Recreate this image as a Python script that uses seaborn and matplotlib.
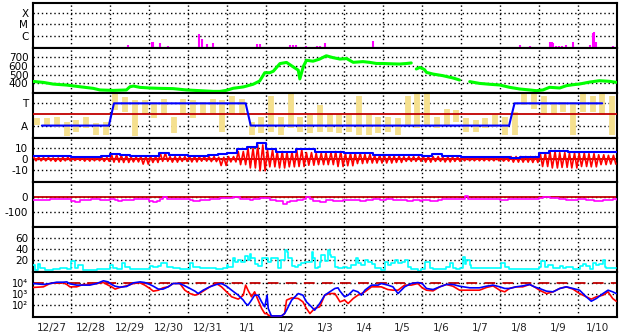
import numpy as np
import pandas as pd
import matplotlib
matplotlib.use("Agg")
import matplotlib.pyplot as plt
from matplotlib.ticker import NullLocator
import seaborn as sns

# time axis: days since 12/27 00:00
day_labels = ["12/27", "12/28", "12/29", "12/30", "12/31", "1/1", "1/2", "1/3",
              "1/4", "1/5", "1/6", "1/7", "1/8", "1/9", "1/10"]

# X-ray flare spikes (log10 flux)
xray_day = [2.44, 3.06, 3.10, 3.27, 3.48, 4.28, 4.34, 4.47, 4.62, 5.75, 5.83, 6.60,
            6.68, 6.77, 7.03, 7.29, 7.38, 7.50, 8.74, 12.50, 12.76, 13.29, 13.33,
            13.36, 13.44, 13.52, 13.60, 13.70, 13.88, 14.30, 14.38, 14.42, 14.47, 14.89]
xray_log = [-6.82, -6.55, -6.6, -6.7, -6.9, -5.9, -6.3, -6.8, -6.64, -6.8, -6.8, -6.85,
            -6.85, -6.85, -6.9, -6.95, -6.9, -6.7, -6.45, -6.82, -6.9, -6.6, -6.55,
            -6.7, -6.9, -6.9, -6.9, -6.85, -6.6, -6.85, -5.75, -5.7, -6.6, -6.9]

# solar wind speed (km/s)
wind_day = [0.02, 0.28, 0.53, 0.88, 1.22, 1.56, 1.73, 2.07, 2.41, 2.50, 2.59, 2.76,
            3.01, 3.27, 3.61, 3.95, 4.30, 4.64, 4.81, 4.98, 5.15, 5.41, 5.66, 5.83,
            5.96, 6.09, 6.18, 6.35, 6.52, 6.69, 6.82, 6.86, 6.95, 7.03, 7.20, 7.37,
            7.54, 7.71, 7.89, 8.06, 8.23, 8.48, 8.65, 8.83, 9.00, 9.25, 9.42, 9.60, 9.72,
            9.85, 9.94, 10.06, 10.11, 10.28, 10.53, 10.79, 10.96,
            11.22, 11.47, 11.73, 11.99, 12.24, 12.50, 12.76, 12.93, 13.10, 13.27,
            13.53, 13.70, 13.87, 14.04, 14.30, 14.55, 14.81, 14.98]
wind_speed = [422, 411, 392, 381, 362, 344, 326, 321, 326, 362, 370, 355,
              348, 344, 341, 326, 318, 310, 310, 322, 345, 360, 390, 427,
              520, 520, 537, 623, 636, 586, 549, 450, 590, 660, 650, 674,
              711, 690, 674, 680, 637, 645, 637, 624, 624, 620, 618, 624, 630,
              562, 580, 555, 524, 505, 487, 461, 438,
              420, 400, 390, 382, 356, 337, 326, 318, 326, 356,
              348, 374, 385, 393, 415, 430, 423, 412]
wind_seg = [0] * 49 + [1] * 8 + [2] * 18

# sector boundary: A = 135 deg, T = 315 deg
sector_day = [0.24, 1.96, 2.09, 5.47, 5.60, 12.23, 12.37, 14.62]
sector_angle = [135, 135, 315, 315, 135, 135, 315, 315]

# field angle spread per 6-hour bin (deg)
phi_lo = [140, 135, 127, 47, 87, 113, 60, 60, 259, 246, 47, 232, 193, 219, 74, 232,
          193, 219, 232, 87, 232, 219, 60, 74, 87, 60, 113, 87, 74, 87, 87, 74,
          87, 60, 60, 74, 87, 60, 140, 113, 140, 113, 140, 166, 87, 87, 113, 127,
          60, 60, 299, 272, 232, 232, 246, 60, 246, 246, 219, 60]
phi_hi = [198, 193, 206, 166, 180, 206, 153, 166, 391, 365, 338, 338, 325, 352, 206, 352,
          338, 325, 352, 338, 378, 352, 166, 206, 378, 206, 391, 206, 219, 299, 232, 232,
          219, 378, 219, 206, 206, 193, 378, 391, 391, 206, 272, 259, 193, 180, 193, 219,
          206, 246, 391, 391, 378, 325, 325, 325, 391, 378, 391, 378]

# IMF per 6-hour bin (nT)
bt = [3.0, 2.5, 2.5, 2.5, 2.3, 2.0, 2.0, 2.5, 4.5, 4.2, 3.3, 3.3, 3.3, 6.0, 4.0, 3.8,
      3.0, 3.2, 4.0, 4.5, 5.5, 9.0, 11.0, 15.0, 9.5, 7.0, 6.8, 9.0, 9.5, 7.0, 6.5, 6.5,
      6.0, 5.5, 5.5, 3.8, 3.5, 3.5, 3.5, 4.0, 3.0, 4.5, 3.0, 3.0, 2.4, 2.4, 2.4, 2.4,
      1.8, 1.5, 2.4, 2.4, 6.0, 7.5, 7.5, 7.0, 6.8, 7.0, 7.0, 6.5]
bz_lo = [-1.5, -1.5, -2.0, -1.5, -1.2, -1.8, -1.5, -2.0, -2.7, -3.0, -2.5, -4.5, -3.0,
         -2.0, -2.7, -2.0, -2.5, -1.8, -2.2, -5.8, -2.5, -5.0, -8.0, -10.6, -7.0, -8.0,
         -7.0, -6.7, -5.5, -5.0, -5.0, -6.7, -6.0, -4.0, -3.5, -3.5, -3.5, -3.0, -2.0,
         -2.0, -2.7, -2.0, -2.5, -2.0, -1.5, -1.5, -1.5, -1.5, -1.8, -2.7, -2.7, -3.0,
         -6.7, -8.0, -7.5, -8.0, -6.7, -7.0, -5.0, -4.5]
bz_hi = [1.8, 1.5, 1.2, 1.8, 1.2, 1.5, 1.8, 1.5, 4.0, 3.5, 2.0, 2.5, 2.4, 5.5, 2.4, 2.4,
         2.4, 2.4, 2.4, 1.8, 2.4, 7.0, 10.0, 13.0, 8.5, 7.0, 6.5, 8.5, 6.0, 5.5, 6.0,
         7.0, 5.5, 5.5, 4.5, 3.5, 3.5, 3.0, 2.4, 2.4, 2.4, 2.4, 2.0, 2.0, 1.5, 1.5, 1.2,
         1.5, 1.2, 2.4, 2.4, 2.4, 5.5, 7.0, 6.0, 5.5, 5.5, 5.0, 4.0, 3.5]

# geomagnetic index (nT)
dst_day = [0.02, 0.20, 0.45, 0.95, 1.00, 1.10, 1.22, 1.50, 1.73, 2.00, 2.12, 2.20,
           2.30, 2.60, 2.85, 3.00, 3.10, 3.20, 3.27, 3.36, 3.44, 3.80, 4.04, 4.12,
           4.30, 4.55, 4.80, 4.98, 5.15, 5.32, 5.58, 5.66, 5.83, 6.00, 6.09, 6.26,
           6.43, 6.52, 6.60, 6.78, 6.95, 7.03, 7.12, 7.20, 7.37, 7.54, 7.72, 7.97,
           8.23, 8.40, 8.57, 8.74, 8.91, 9.08, 9.25, 9.42, 9.60, 9.77, 9.94, 10.00,
           10.20, 10.40, 10.50, 11.00, 11.09, 11.17, 11.50, 11.80, 12.00, 12.20,
           12.90, 13.00, 13.10, 13.27, 13.50, 13.70, 14.00, 14.20, 14.40, 14.55,
           14.64, 14.90, 15.00]
dst_val = [-20, -16, -11, -11, -27, -33, -16, -11, -16, -11, -20, -22,
           -16, -11, -13, -24, -31, -24, -13, 0, -11, -11, -16, -24,
           -15, -9, -7, -4, 0, -13, -20, -11, -7, -2, -16, -27,
           -42, -31, -24, -20, -9, 0, -11, -24, -33, -20, -24, -16,
           -20, -27, -16, -9, -16, -9, -16, -20, -24, -20, -24, -20,
           -24, -16, -11, -11, 7, -11, -11, -13, -16, -9,
           -9, -7, 2, -7, -11, -16, -11, -16, -27, -24,
           -16, -13, -16]

# activity index
cyan_day = [0.02, 0.06, 0.15, 0.19, 0.32, 0.53, 0.71, 0.88, 1.00, 1.09, 1.18, 1.30,
            1.65, 1.90, 1.99, 2.07, 2.16, 2.29, 2.37, 2.50, 2.84, 3.01, 3.10, 3.23,
            3.31, 3.44, 3.61, 3.78, 3.95, 4.04, 4.12, 4.29, 4.47, 4.72, 4.89, 4.98,
            5.02, 5.15, 5.19, 5.28, 5.36, 5.45, 5.53, 5.58, 5.62, 5.70, 5.79, 5.88,
            6.00, 6.05, 6.13, 6.22, 6.30, 6.39, 6.47, 6.52, 6.56, 6.65, 6.73, 6.82,
            6.90, 6.99, 7.07, 7.16, 7.20, 7.24, 7.33, 7.37, 7.41, 7.50, 7.59, 7.63,
            7.67, 7.76, 7.84, 7.97, 8.06, 8.18, 8.31, 8.35, 8.44, 8.53, 8.61, 8.70,
            8.78, 8.87, 8.95, 9.04, 9.12, 9.21, 9.30, 9.38, 9.47, 9.55, 9.64, 9.72,
            9.89, 9.98, 10.06, 10.19, 10.28, 10.53, 10.62, 10.71, 10.79, 10.88, 10.96,
            11.05, 11.09, 11.13, 11.22, 11.26, 11.39, 11.90, 12.03, 12.12, 12.24,
            12.93, 13.01, 13.06, 13.14, 13.23, 13.35, 13.53, 13.61, 13.70, 13.87,
            14.04, 14.12, 14.21, 14.30, 14.38, 14.47, 14.55, 14.64, 14.68, 14.72, 14.98]
cyan_val = [11, 2, 12, 5, 2, 3, 5, 3, 18, 6, 11, 2,
            3, 3, 11, 5, 3, 14, 8, 3, 3, 9, 6.5, 10,
            14, 8, 6, 3, 3, 15, 8, 6, 5, 3, 6, 11,
            6.5, 23, 17, 20, 17, 27, 20, 32, 23, 12, 10, 23,
            24, 17, 23, 24, 5, 20, 38, 35, 23, 10, 8, 11,
            14, 17, 17, 35, 23, 5, 8, 17, 29, 18, 38, 29,
            26, 8, 5, 8, 6, 11, 24, 14, 11, 20, 17, 12,
            6, 5, 2, 17, 11, 14, 20, 14, 17, 20, 8, 3,
            1, 3, 16, 5, 3, 3, 8, 14, 5, 3, 5,
            26, 12, 20, 11, 5, 5, 5, 15, 6.5, 4,
            4, 8, 18, 8, 11, 5, 10, 5, 8, 4,
            10, 12, 10, 3, 14, 11, 12, 20, 8, 5, 5]

# particle flux (log10), two channels
flux_day = [0.00, 0.28, 0.45, 0.62, 0.79, 0.88, 0.96, 1.13, 1.30, 1.47, 1.65, 1.82,
            1.94, 2.03, 2.12, 2.24, 2.41, 2.59, 2.76, 2.88, 3.01, 3.10, 3.23, 3.35,
            3.48, 3.61, 3.78, 3.91, 4.04, 4.17, 4.25, 4.38, 4.55, 4.72, 4.85, 4.98,
            5.11, 5.28, 5.41, 5.47, 5.53, 5.62, 5.70, 5.79, 5.88, 5.96, 6.02, 6.05,
            6.13, 6.39, 6.47, 6.52, 6.65, 6.82, 6.94, 7.03, 7.12, 7.24, 7.37, 7.50,
            7.63, 7.76, 7.84, 7.89, 8.01, 8.10, 8.23, 8.35, 8.44, 8.53, 8.70, 8.87,
            8.95, 9.12, 9.25, 9.38, 9.55, 9.72, 9.89, 10.00, 10.11, 10.28, 10.45, 10.62,
            10.79, 10.96, 11.22, 11.47, 11.65, 11.82, 11.99, 12.12, 12.24, 12.41, 12.58,
            12.76, 12.88, 13.01, 13.19, 13.36, 13.53, 13.70, 13.87, 14.04, 14.21, 14.34,
            14.47, 14.64, 14.77, 14.89, 14.98]
flux_blue = [4.0, 3.91, 4.0, 4.12, 4.12, 4.15, 3.97, 3.85, 3.85, 3.85, 4.0, 4.25,
             4.15, 3.91, 3.75, 3.66, 3.72, 4.06, 4.15, 4.09, 3.91, 3.75, 3.48, 3.48,
             3.69, 4.0, 4.0, 3.78, 3.54, 3.29, 3.07, 3.38, 3.69, 3.91, 4.0, 3.75,
             3.38, 2.92, 2.46, 2.15, 1.99, 2.46, 2.92, 2.92, 2.3, 1.84, 2.92, 1.69,
             1.0, 1.0, 1.22, 1.53, 2.46, 3.07, 2.92, 2.3, 1.99, 1.53, 2.15, 2.92,
             3.23, 3.54, 3.6, 3.3, 2.77, 2.92, 3.38, 3.23, 2.92, 3.38, 3.85, 3.85,
             4.0, 3.85, 3.69, 3.07, 3.69, 4.0, 4.09, 4.0, 3.54, 3.44, 3.69, 3.91,
             3.91, 3.75, 3.6, 3.6, 3.75, 3.85, 3.69, 3.54, 3.54, 3.69, 3.78,
             3.91, 3.69, 3.54, 3.29, 3.23, 3.54, 3.69, 3.54, 3.38, 2.77, 2.36,
             2.61, 3.07, 3.38, 3.23, 3.07]
flux_red = [3.63, 3.69, 4.0, 4.06, 4.06, 3.91, 3.69, 3.69, 3.91, 3.91, 4.0, 4.09,
            3.85, 3.69, 3.48, 3.63, 3.78, 4.0, 4.06, 3.85, 3.54, 3.29, 3.38, 3.6,
            3.69, 4.0, 4.0, 3.38, 3.07, 2.92, 3.01, 3.29, 3.69, 4.0, 3.69, 3.23,
            2.77, 2.55, 2.92, 3.85, 3.38, 2.77, 3.23, 2.46, 1.69, 1.22, 1.2, 1.07,
            1.0, 1.0, 1.22, 2.46, 2.67, 2.61, 2.3, 1.69, 1.22, 1.69, 1.84, 2.92,
            3.07, 3.07, 2.61, 2.3, 2.46, 2.15, 2.61, 2.92, 3.07, 3.23, 3.69, 3.69,
            3.69, 3.44, 3.38, 3.38, 3.85, 3.85, 4.0, 3.6, 3.38, 3.32, 3.69, 3.91,
            3.75, 3.38, 3.38, 3.38, 3.63, 3.78, 3.38, 3.23, 3.54, 3.69, 3.69,
            3.91, 3.69, 3.38, 3.07, 3.23, 3.54, 3.69, 3.48, 3.07, 2.77, 2.55,
            2.77, 2.92, 3.23, 2.61, 2.36]

BLUE = "#0000ff"
RED = "#ff0000"
DARK_RED = "#c00000"
DOTS = (0, (1, 2))

sns.set_theme(style="white")
plt.rcParams["font.family"] = ["DejaVu Sans"]

fig = plt.figure(figsize=(6.28, 3.34), dpi=100)
gs = fig.add_gridspec(7, 1, left=32.5 / 628, right=617 / 628,
                      top=1 - 3 / 334, bottom=1 - 317 / 334, hspace=0)
axes = [fig.add_subplot(gs[i]) for i in range(7)]


def style_axis(ax, ylim, ticks, labels, log=False, size=7.5):
    if log:
        ax.set_yscale("log")
    ax.set_xlim(0, 15)
    ax.set_ylim(*ylim)
    ax.set_yticks(ticks)
    ax.set_yticklabels(labels)
    ax.yaxis.set_minor_locator(NullLocator())
    ax.tick_params(axis="y", length=0, pad=3, labelsize=size, colors="black")
    ax.set_xticks(range(1, 15))
    ax.tick_params(axis="x", length=0, labelbottom=False)
    for t in ticks:
        ax.axhline(t, color="black", lw=1, ls=DOTS, zorder=1)
    for d in range(1, 15):
        ax.axvline(d, color="black", lw=1, ls=DOTS, zorder=1)
    for s in ax.spines.values():
        s.set_linewidth(1.5)
        s.set_color("black")
    ax.set_xlabel("")
    ax.set_ylabel("")


# 1. X-ray
ax = axes[0]
style_axis(ax, (10 ** -7.1, 10 ** -3.1), [1e-4, 1e-5, 1e-6], ["X", "M", "C"], log=True)
ax.vlines(xray_day, 10 ** -7.1, 10 ** np.array(xray_log), color="#ff00ff", lw=1.5, zorder=3)

# 2. wind speed
ax = axes[1]
wind = pd.DataFrame({"day": wind_day, "speed": wind_speed, "seg": wind_seg})
sns.lineplot(data=wind, x="day", y="speed", units="seg", estimator=None,
             color="#00ff00", lw=2.2, ax=ax, zorder=3)
style_axis(ax, (295, 800), [400, 500, 600, 700], ["400", "500", "600", "700"])

# 3. sector
ax = axes[2]
bin_mid = np.arange(len(phi_lo)) * 0.25 + 0.125
ax.vlines(bin_mid, phi_lo, phi_hi, color="#f5e08e", lw=4.2, zorder=2)
ax.axhline(225, color=DARK_RED, lw=1.3, zorder=3)
sns.lineplot(x=sector_day, y=sector_angle, color=BLUE, lw=1.5, ax=ax, zorder=4)
style_axis(ax, (38, 401), [315, 135], ["T", "A"])

# 4. IMF
ax = axes[3]
ax.axhline(0, color=DARK_RED, lw=1.3, zorder=2)
sub = np.array([0.03, 0.09, 0.16, 0.22])
zz_day = (np.arange(len(bz_lo))[:, None] * 0.25 + sub).ravel()
zz_val = np.column_stack([bz_hi, bz_lo, bz_hi, bz_lo]).ravel()
sns.lineplot(x=zz_day, y=zz_val, sort=False, estimator=None, color=RED, lw=1.2, ax=ax, zorder=3)
bt_day = np.append(np.arange(len(bt)) * 0.25, 15)
bt_val = np.append(bt, bt[-1])
sns.lineplot(x=bt_day, y=bt_val, estimator=None, drawstyle="steps-post",
             color=BLUE, lw=1.5, ax=ax, zorder=4)
style_axis(ax, (-21.2, 19.7), [10, 0, -10], ["10", "0", "-10"])

# 5. geomagnetic index
ax = axes[4]
ax.axhline(0, color=DARK_RED, lw=1.3, zorder=2)
sns.lineplot(x=dst_day, y=dst_val, estimator=None, drawstyle="steps-post",
             color="#ff00ff", lw=1.2, ax=ax, zorder=3)
style_axis(ax, (-204, 102), [0, -100], ["0", "-100"])

# 6. activity index
ax = axes[5]
sns.lineplot(x=cyan_day, y=cyan_val, estimator=None, drawstyle="steps-post",
             color="#00ffff", lw=1.2, ax=ax, zorder=3)
style_axis(ax, (-2, 80), [20, 40, 60], ["20", "40", "60"])

# 7. particle flux
ax = axes[6]
ax.axhline(1e4, color=DARK_RED, lw=1.3, ls=(0, (6, 4)), zorder=2)
sns.lineplot(x=flux_day, y=10 ** np.array(flux_red), estimator=None, color=RED, lw=1.2, ax=ax, zorder=3)
sns.lineplot(x=flux_day, y=10 ** np.array(flux_blue), estimator=None, color=BLUE, lw=1.2, ax=ax, zorder=4)
style_axis(ax, (10 ** 0.9, 10 ** 5.05), [1e4, 1e3, 1e2],
           ["10\u2074", "10\u00b3", "10\u00b2"], log=True, size=7)
ax.set_xticks(np.arange(15) + 0.5, minor=True)
ax.set_xticklabels(day_labels, minor=True)
ax.tick_params(axis="x", which="minor", length=0, labelbottom=True, labelsize=7.5, pad=4)

fig.savefig("out.png", dpi=100, facecolor="white")
